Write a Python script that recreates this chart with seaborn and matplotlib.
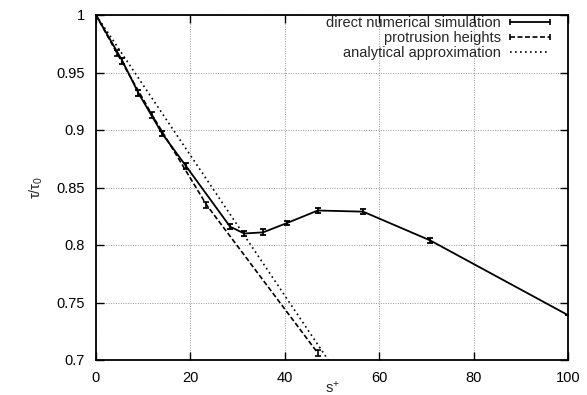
import numpy as np
import pandas as pd
import matplotlib
matplotlib.use("Agg")
import matplotlib.pyplot as plt
from matplotlib.lines import Line2D
import seaborn as sns

# direct numerical simulation (with error bars)
dns_s = [0.0, 5.6, 9.0, 14.0, 19.0, 28.4, 31.4, 35.4, 40.4, 47.0, 56.6, 70.8, 100.0]
dns_tau = [1.0, 0.960, 0.932, 0.897, 0.869, 0.816, 0.810, 0.811, 0.819, 0.830, 0.829, 0.804, 0.739]
dns_err = [0.0, 0.0025, 0.0025, 0.0025, 0.0025, 0.0025, 0.0025, 0.0025, 0.0020, 0.0025, 0.0020, 0.0025, 0.0]

# protrusion heights (with error bars)
prot_s = [0.0, 4.4, 11.9, 23.4, 47.0]
prot_tau = [1.0, 0.967, 0.913, 0.835, 0.706]
prot_err = [0.0, 0.0025, 0.0025, 0.0025, 0.0025]

# analytical approximation
ana_s = [0.0, 60.0]
ana_tau = [1.0, 0.634]

sns.set_style("ticks")
plt.rcParams["font.family"] = ["Liberation Sans", "DejaVu Sans"]
plt.rcParams["mathtext.fontset"] = "custom"
plt.rcParams["mathtext.rm"] = "Liberation Sans"
plt.rcParams["mathtext.it"] = "Liberation Sans"

fig = plt.figure(figsize=(5.87, 3.95), dpi=100)
ax = fig.add_axes([96 / 587, 1 - 360 / 395, 472 / 587, 345 / 395])

dns = pd.DataFrame({"s": dns_s, "tau": dns_tau})
prot = pd.DataFrame({"s": prot_s, "tau": prot_tau})
ana = pd.DataFrame({"s": ana_s, "tau": ana_tau})

sns.lineplot(data=dns, x="s", y="tau", sort=False, color="black", lw=1.3, ax=ax)
ax.errorbar(dns_s, dns_tau, yerr=dns_err, fmt="none", ecolor="black",
            elinewidth=1.3, capsize=2.5, capthick=1.3)
sns.lineplot(data=prot, x="s", y="tau", sort=False, color="black", lw=1.2,
             linestyle=(0, (3, 1.5)), ax=ax)
ax.errorbar(prot_s, prot_tau, yerr=prot_err, fmt="none", ecolor="black",
            elinewidth=1.2, capsize=2.5, capthick=1.2)
sns.lineplot(data=ana, x="s", y="tau", sort=False, color="black", lw=1.2,
             linestyle=(0, (1, 2)), ax=ax)

ax.set_xlim(0, 100)
ax.set_ylim(0.7, 1.0)
ax.set_xticks([0, 20, 40, 60, 80, 100])
ax.set_yticks([0.7, 0.75, 0.8, 0.85, 0.9, 0.95, 1.0])
ax.set_yticklabels(["0.7", "0.75", "0.8", "0.85", "0.9", "0.95", "1"])
ax.grid(True, color="#999999", linestyle=(0, (1, 1.5)), linewidth=0.7)
ax.tick_params(direction="in", length=6, width=1, top=True, right=True,
               labelsize=10.5, pad=8, colors="black")
for sp in ax.spines.values():
    sp.set_linewidth(1.3)
    sp.set_color("black")

ax.set_xlabel("s$^{+}$", fontsize=10.5, labelpad=-4)
ax.set_ylabel(r"$\tau/\tau_0$", fontsize=10.5, labelpad=8)

handles = [
    Line2D([], [], color="black", lw=1.3, marker="|", markersize=5, markeredgewidth=1.2),
    Line2D([], [], color="black", lw=1.2, linestyle=(0, (3, 1.5)),
           marker="|", markersize=5, markeredgewidth=1.2),
    Line2D([], [], color="black", lw=1.2, linestyle=(0, (1, 2))),
]
labels = ["direct numerical simulation", "protrusion heights", "analytical approximation"]
leg = ax.legend(handles, labels, loc="upper right", bbox_to_anchor=(0.975, 1.0),
                frameon=False, markerfirst=False, fontsize=10.5, numpoints=2,
                handlelength=3.4, handletextpad=0.3, labelspacing=0.05,
                borderaxespad=0.0, borderpad=0.1)
for t in leg.get_texts():
    t.set_ha("right")
leg._legend_box.align = "right"

fig.savefig("out.png", dpi=100)
